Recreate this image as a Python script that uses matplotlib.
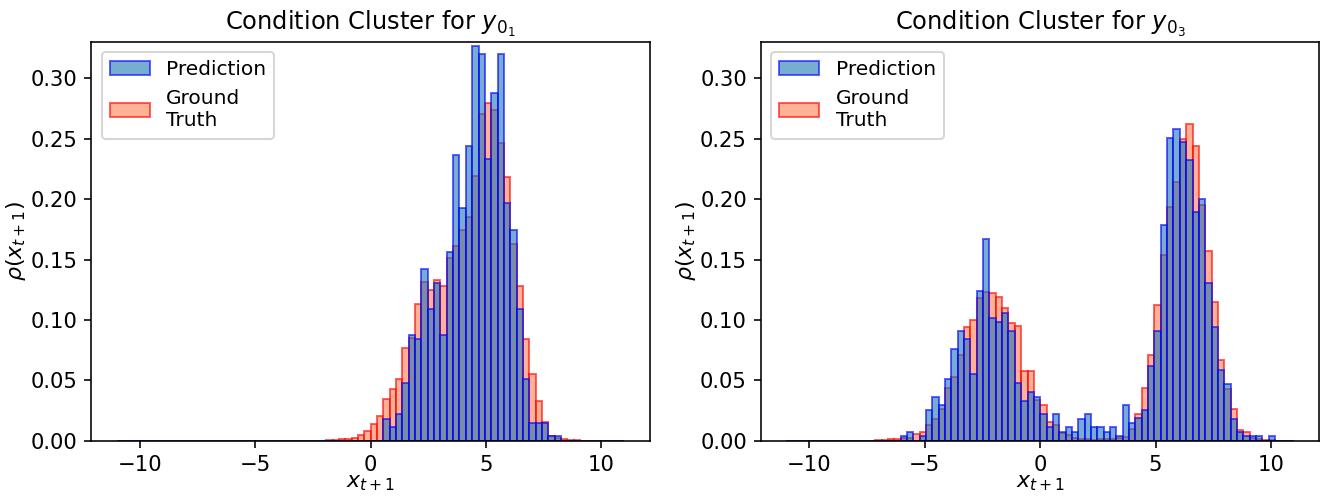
import numpy as np
import matplotlib
matplotlib.use("Agg")
import matplotlib.pyplot as plt

# histogram bins used for both panels
bin_lo, bin_hi, n_bins = -11, 11, 80

# densities, one value per bin starting at the given bin index
# left panel: y_{0_1}
gt_y01_start = 33
gt_y01 = [0.0004, 0.0007, 0.0010, 0.0012, 0.0022, 0.0047, 0.0083, 0.0138, 0.0205, 0.0345,
          0.0426, 0.0508, 0.0765, 0.0853, 0.1129, 0.1311, 0.1250, 0.1330, 0.1278, 0.1510,
          0.1612, 0.1744, 0.1854, 0.2194, 0.2702, 0.2796, 0.2743, 0.2467, 0.2181, 0.1628,
          0.1281, 0.0839, 0.0550, 0.0329, 0.0152, 0.0039, 0.0020, 0.0014, 0.0008, 0.0004]
pred_y01_start = 42
pred_y01 = [0.0182, 0.0111, 0.0218, 0.0475, 0.0873, 0.0839, 0.1419, 0.1093, 0.1308, 0.0873,
            0.1565, 0.2365, 0.1929, 0.2437, 0.3273, 0.3201, 0.2332, 0.2876, 0.3201, 0.1965,
            0.1744, 0.1093, 0.0508, 0.0144, 0.0144, 0.0144, 0.0039, 0.0039]

# right panel: y_{0_3}
gt_y03_start = 14
gt_y03 = [0.0006, 0.0008, 0.0010, 0.0015, 0.0020, 0.0020, 0.0055, 0.0069, 0.0130, 0.0177,
          0.0260, 0.0434, 0.0530, 0.0709, 0.0939, 0.0999, 0.1179, 0.1229, 0.1220, 0.1187,
          0.1096, 0.0972, 0.0947, 0.0579, 0.0579, 0.0340, 0.0296, 0.0157, 0.0130, 0.0066,
          0.0047, 0.0019, 0.0012, 0.0010, 0.0008, 0.0010, 0.0012, 0.0015, 0.0020, 0.0032,
          0.0094, 0.0221, 0.0436, 0.0709, 0.1123, 0.1535, 0.1932, 0.2142, 0.2495, 0.2619,
          0.2442, 0.1951, 0.1573, 0.1146, 0.0668, 0.0424, 0.0260, 0.0089, 0.0069, 0.0020,
          0.0010, 0.0005, 0.0003]
pred_y03_start = 18
pred_y03 = [0.0039, 0.0069, 0.0, 0.0039, 0.0254, 0.0362, 0.0293, 0.0511, 0.0762, 0.0908,
            0.0839, 0.0550, 0.1239, 0.1672, 0.1018, 0.0985, 0.1060, 0.0911, 0.0475, 0.0329,
            0.0401, 0.0362, 0.0218, 0.0111, 0.0221, 0.0075, 0.0111, 0.0075, 0.0182, 0.0218,
            0.0111, 0.0111, 0.0075, 0.0111, 0.0039, 0.0293, 0.0149, 0.0185, 0.0254, 0.0618,
            0.0911, 0.1783, 0.2508, 0.2580, 0.2473, 0.2329, 0.1893, 0.1998, 0.1308, 0.0944,
            0.0583, 0.0472, 0.0182, 0.0072, 0.0036, 0.0036, 0.0036, 0.0, 0.0036]

panels = [
    ("Condition Cluster for $y_{0_1}$", gt_y01_start, gt_y01, pred_y01_start, pred_y01),
    ("Condition Cluster for $y_{0_3}$", gt_y03_start, gt_y03, pred_y03_start, pred_y03),
]

edges = np.linspace(bin_lo, bin_hi, n_bins + 1)
centers = 0.5 * (edges[:-1] + edges[1:])


def full_density(start, vals):
    d = np.zeros(n_bins)
    d[start:start + len(vals)] = vals
    return d


plt.rcParams['xtick.labelsize'] = 10.5
plt.rcParams['ytick.labelsize'] = 10.5

fig, axes = plt.subplots(1, 2, figsize=(1331 / 145, 498 / 145), dpi=145)
fig.subplots_adjust(left=0.0687, right=0.9913, bottom=0.1151, top=0.9151, wspace=0.199)

for ax, (title, gs, gv, ps, pv) in zip(axes, panels):
    _, _, gt_bars = ax.hist(centers, bins=edges, weights=full_density(gs, gv),
                            facecolor='coral', edgecolor='red', alpha=0.6,
                            label='Ground\nTruth')
    _, _, pred_bars = ax.hist(centers, bins=edges, weights=full_density(ps, pv),
                              facecolor='C0', edgecolor='blue', alpha=0.6,
                              label='Prediction')
    ax.set_ylim(0, 0.33)
    ax.set_title(title, fontsize=12)
    ax.set_xlabel('$x_{t+1}$', labelpad=-1, fontsize=11)
    ax.set_ylabel(r'$\rho(x_{t+1})$', labelpad=1, fontsize=11)
    ax.legend([pred_bars[0], gt_bars[0]], ['Prediction', 'Ground\nTruth'],
              loc='upper left', fontsize=10)

fig.savefig('out.png', dpi=145)
